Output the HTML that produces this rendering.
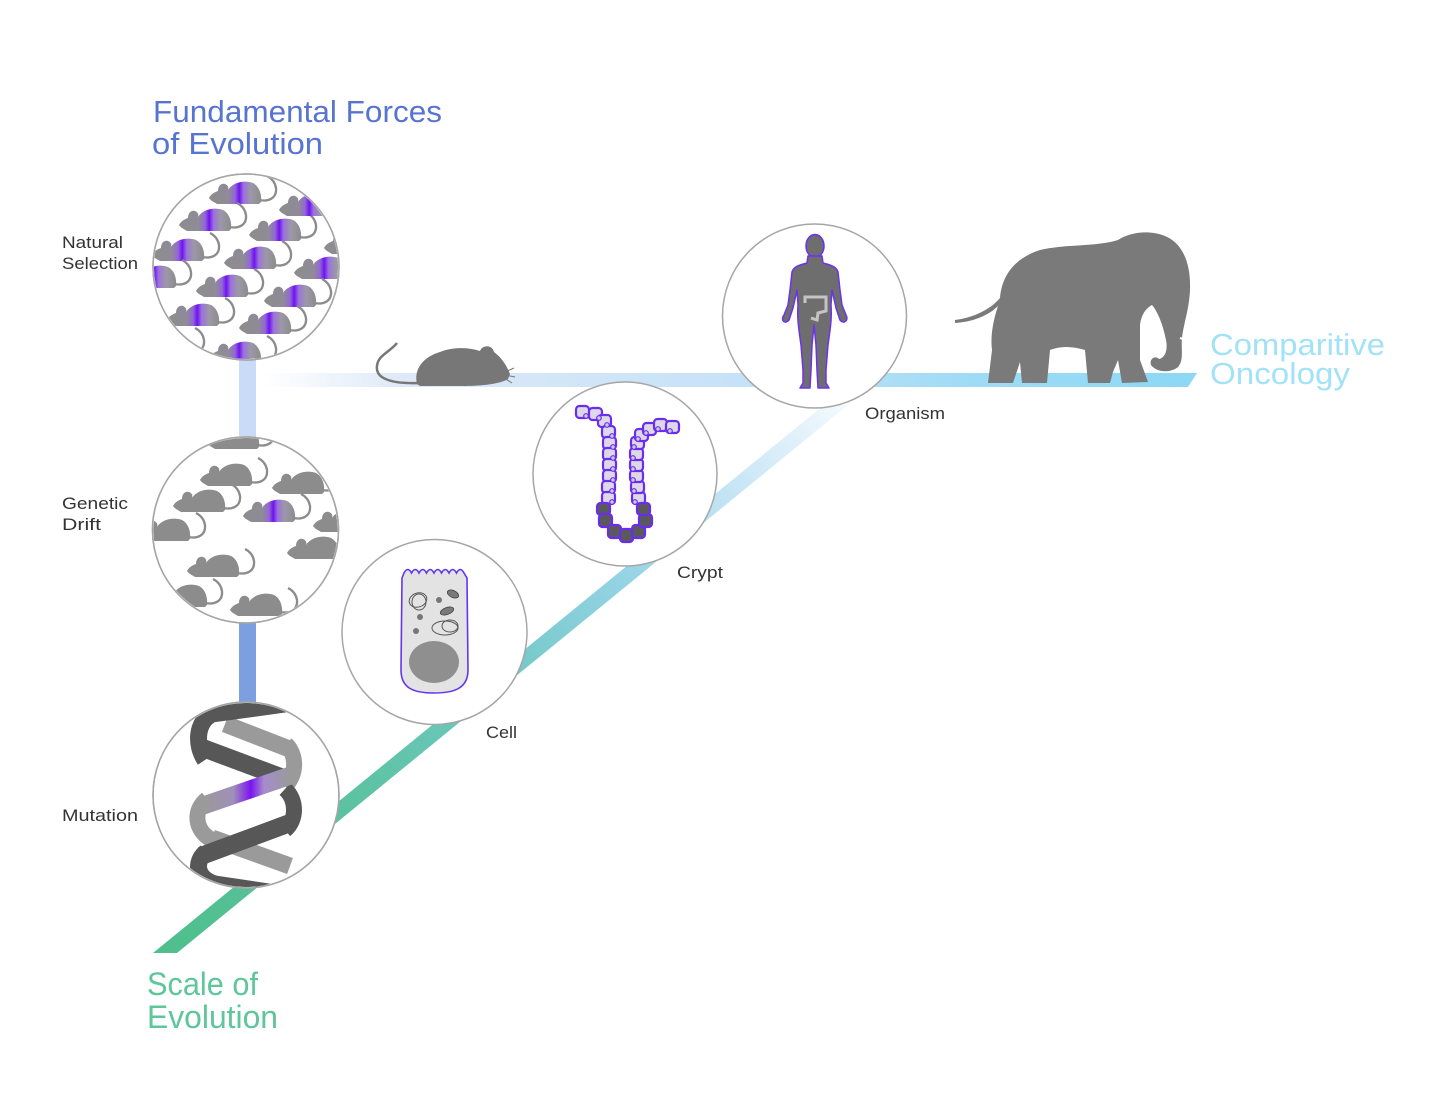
<!DOCTYPE html>
<html><head><meta charset="utf-8"><style>
html,body{margin:0;padding:0;background:#fff;}
svg{display:block;}
text{font-family:"Liberation Sans",sans-serif;}
</style></head><body>
<svg width="1440" height="1112" viewBox="0 0 1440 1112" xmlns="http://www.w3.org/2000/svg">
<defs>
  <linearGradient id="hline" gradientUnits="userSpaceOnUse" x1="265" y1="0" x2="1197" y2="0">
    <stop offset="0" stop-color="#ffffff"/>
    <stop offset="0.15" stop-color="#dde9f8"/>
    <stop offset="0.5" stop-color="#c7e2f8"/>
    <stop offset="0.75" stop-color="#9fdcf6"/>
    <stop offset="1" stop-color="#8bd8f5"/>
  </linearGradient>
  <linearGradient id="dline" gradientUnits="userSpaceOnUse" x1="165" y1="953" x2="835" y2="400">
    <stop offset="0" stop-color="#4fbf8c"/>
    <stop offset="0.3" stop-color="#5dc3a4"/>
    <stop offset="0.5" stop-color="#72c8c5"/>
    <stop offset="0.68" stop-color="#94d3e4"/>
    <stop offset="0.85" stop-color="#c8e6f6"/>
    <stop offset="1" stop-color="#f2f9fd"/>
  </linearGradient>
  <linearGradient id="purp" x1="0" y1="0" x2="1" y2="0">
    <stop offset="0" stop-color="#8c8c8c"/>
    <stop offset="0.38" stop-color="#908b98"/>
    <stop offset="0.5" stop-color="#9266d8"/>
    <stop offset="0.58" stop-color="#7012f2"/>
    <stop offset="0.66" stop-color="#9a70de"/>
    <stop offset="0.8" stop-color="#9d98a8"/>
    <stop offset="1" stop-color="#8c8c8c"/>
  </linearGradient>
  <linearGradient id="dnap" gradientUnits="userSpaceOnUse" x1="203" y1="0" x2="290" y2="0">
    <stop offset="0" stop-color="#9a9a9a"/>
    <stop offset="0.35" stop-color="#a08fb8"/>
    <stop offset="0.55" stop-color="#7a14f0"/>
    <stop offset="0.7" stop-color="#a58ccc"/>
    <stop offset="1" stop-color="#9a9a9a"/>
  </linearGradient>
  <clipPath id="c1"><circle cx="246" cy="267" r="92"/></clipPath>
  <clipPath id="c2"><circle cx="245.5" cy="530" r="92"/></clipPath>
  <clipPath id="c3"><circle cx="246" cy="795" r="92"/></clipPath>
  <g id="mg">
    <path d="M0,18 C2,14 6,12 9,11 C9,6 12,3 16,4 C19,5 20,8 19,10 C24,2 36,0 44,3 C50,6 53,14 52,22 L50,24 L8,24 C5,22 2,21 0,18 Z" fill="#8c8c8c"/>
    <path d="M50,20 C60,22 68,18 67,8 C66,2 62,-2 58,-4" fill="none" stroke="#8c8c8c" stroke-width="2.3"/>
  </g>
  <g id="mp">
    <path d="M0,18 C2,14 6,12 9,11 C9,6 12,3 16,4 C19,5 20,8 19,10 C24,2 36,0 44,3 C50,6 53,14 52,22 L50,24 L8,24 C5,22 2,21 0,18 Z" fill="url(#purp)"/>
    <path d="M50,20 C60,22 68,18 67,8 C66,2 62,-2 58,-4" fill="none" stroke="#8c8c8c" stroke-width="2.3"/>
  </g>
</defs>

<!-- connectors -->
<rect x="239" y="352" width="17" height="90" fill="#c9dcf7"/>
<rect x="239" y="615" width="17" height="92" fill="#7d9fe2"/>
<polygon points="265,373 1197,373 1188,387 265,387" fill="url(#hline)"/>
<polygon points="153,953 177,953 848,405 824,405" fill="url(#dline)"/>

<!-- standalone mouse -->
<path d="M420,383 C395,384 375,380 377,366 C378,355 390,352 397,343" fill="none" stroke="#777" stroke-width="2.5"/>
<path d="M417,384 C414,372 420,358 440,352 C452,347 468,347 480,351 C482,345 492,344 494,352 C502,358 507,366 510,374 L508,379 C500,384 482,386 462,386 L420,386 Z" fill="#777"/>
<path d="M505,372 L514,368 M505,375 L515,377 M504,378 L512,383" stroke="#777" stroke-width="1"/>

<!-- elephant -->
<path d="M955,320 C972,318 990,310 1000,298 C1002,275 1015,258 1040,250 C1065,244 1095,247 1118,240 C1128,233 1148,229 1165,236 C1182,243 1191,262 1190,290 C1189,310 1184,322 1182,338 C1181,350 1184,360 1178,367 C1171,373 1157,373 1151,365 C1149,359 1155,355 1159,359 C1165,358 1168,350 1166,340 C1163,325 1158,312 1152,305 C1146,308 1141,315 1140,325 L1140,360 L1148,382 L1122,383 L1118,360 L1113,372 L1110,383 L1088,383 L1085,350 C1072,346 1060,346 1050,350 L1047,383 L1022,383 L1020,362 L1013,383 L988,383 L992,350 C990,335 994,318 998,306 C988,316 972,322 955,323 Z" fill="#7a7a7a"/>
<path d="M1180,338 L1192,342" stroke="#fff" stroke-width="2"/>

<!-- circles -->
<circle cx="246" cy="267" r="93" fill="#fff" stroke="#a6a6a6" stroke-width="1.5"/>
<circle cx="245.5" cy="530" r="93" fill="#fff" stroke="#a6a6a6" stroke-width="1.5"/>
<circle cx="246" cy="795" r="93" fill="#fff" stroke="#a6a6a6" stroke-width="1.5"/>
<circle cx="434.5" cy="632" r="92.5" fill="#fff" stroke="#a6a6a6" stroke-width="1.5"/>
<circle cx="625" cy="474" r="92" fill="#fff" stroke="#a6a6a6" stroke-width="1.5"/>
<circle cx="814.5" cy="316" r="92" fill="#fff" stroke="#a6a6a6" stroke-width="1.5"/>

<!-- natural selection mice -->
<g clip-path="url(#c1)">
  <use href="#mp" x="209" y="180"/>
  <use href="#mp" x="179" y="207"/>
  <use href="#mp" x="249" y="217"/>
  <use href="#mp" x="279" y="192"/>
  <use href="#mp" x="152" y="237"/>
  <use href="#mp" x="224" y="245"/>
  <use href="#mp" x="294" y="255"/>
  <use href="#mp" x="324" y="230"/>
  <use href="#mp" x="124" y="264"/>
  <use href="#mp" x="196" y="273"/>
  <use href="#mp" x="264" y="283"/>
  <use href="#mp" x="167" y="302"/>
  <use href="#mp" x="239" y="310"/>
  <use href="#mp" x="309" y="320"/>
  <use href="#mp" x="137" y="332"/>
  <use href="#mp" x="209" y="340"/>
</g>
<circle cx="246" cy="267" r="93" fill="none" stroke="#a6a6a6" stroke-width="1.5"/>

<!-- genetic drift mice -->
<g clip-path="url(#c2)">
  <use href="#mg" x="207" y="425"/>
  <use href="#mg" x="200" y="462"/>
  <use href="#mg" x="272" y="470"/>
  <use href="#mg" x="173" y="488"/>
  <use href="#mp" x="243" y="498"/>
  <use href="#mg" x="138" y="517"/>
  <use href="#mg" x="313" y="508"/>
  <use href="#mg" x="287" y="535"/>
  <use href="#mg" x="187" y="553"/>
  <use href="#mg" x="155" y="583"/>
  <use href="#mg" x="230" y="592"/>
</g>
<circle cx="245.5" cy="530" r="93" fill="none" stroke="#a6a6a6" stroke-width="1.5"/>

<!-- DNA -->
<g clip-path="url(#c3)" fill="none" stroke-linecap="butt">
  <path d="M225,724 L292,750" stroke="#9a9a9a" stroke-width="17"/>
  <path d="M205,760 C195,745 196,722 212,714 L285,704" stroke="#575757" stroke-width="17"/>
  <path d="M203,748 L286,779" stroke="#575757" stroke-width="18"/>
  <path d="M286,744 C297,755 297,775 285,786" stroke="#9a9a9a" stroke-width="16"/>
  <path d="M212,838 L290,866" stroke="#9a9a9a" stroke-width="17"/>
  <path d="M285,789 C297,800 297,820 285,830" stroke="#575757" stroke-width="16"/>
  <path d="M202,806 L292,775" stroke="url(#dnap)" stroke-width="18"/>
  <path d="M207,799 C193,810 194,830 212,840" stroke="#9a9a9a" stroke-width="16"/>
  <path d="M201,856 L290,823" stroke="#575757" stroke-width="18"/>
  <path d="M206,852 C194,862 196,878 215,884 L275,893" stroke="#575757" stroke-width="17"/>
</g>
<circle cx="246" cy="795" r="93" fill="none" stroke="#a6a6a6" stroke-width="1.5"/>

<!-- cell -->
<path d="M404,573 q3.75,-7 7.5,0 q3.75,-7 7.5,0 q3.75,-7 7.5,0 q3.75,-7 7.5,0 q3.75,-7 7.5,0 q3.75,-7 7.5,0 q3.75,-7 7.5,0 q3.75,-7 7.5,0 L467,578 L468,670 C468,688 455,693 434,693 C413,693 401,688 401,670 L402,578 Z" fill="#e3e3e3" stroke="#6236ee" stroke-width="1.6"/>
<ellipse cx="434" cy="662" rx="25" ry="21" fill="#8f8f8f"/>
<ellipse cx="418" cy="600" rx="9" ry="7" fill="none" stroke="#555" stroke-width="1" transform="rotate(-20 418 600)"/>
<ellipse cx="419" cy="602" rx="7" ry="8" fill="none" stroke="#555" stroke-width="1"/>
<ellipse cx="453" cy="594" rx="6" ry="3.5" fill="#7a7a7a" stroke="#444" stroke-width="0.8" transform="rotate(25 453 594)"/>
<ellipse cx="447" cy="611" rx="7" ry="3.5" fill="#7a7a7a" stroke="#444" stroke-width="0.8" transform="rotate(-20 447 611)"/>
<circle cx="439" cy="600" r="3" fill="#777"/>
<circle cx="420" cy="617" r="3" fill="#777"/>
<circle cx="416" cy="631" r="3" fill="#777"/>
<ellipse cx="445" cy="628" rx="13" ry="7" fill="none" stroke="#555" stroke-width="1"/>
<ellipse cx="450" cy="626" rx="8" ry="6" fill="none" stroke="#555" stroke-width="1"/>

<!-- crypt -->
<g stroke="#6a2cf0" stroke-width="2.2">
  <g fill="#dcd8e6">
    <rect x="576" y="406" width="13" height="12" rx="3.5"/>
    <rect x="589" y="408" width="13" height="12" rx="3.5"/>
    <rect x="598" y="415" width="13" height="12" rx="3.5"/>
    <rect x="602" y="426" width="13" height="12" rx="3.5"/>
    <rect x="603" y="437" width="13" height="12" rx="3.5"/>
    <rect x="603" y="448" width="13" height="12" rx="3.5"/>
    <rect x="603" y="459" width="13" height="12" rx="3.5"/>
    <rect x="603" y="470" width="13" height="12" rx="3.5"/>
    <rect x="602" y="481" width="13" height="12" rx="3.5"/>
    <rect x="602" y="492" width="13" height="12" rx="3.5"/>
    <rect x="632" y="492" width="13" height="12" rx="3.5"/>
    <rect x="631" y="481" width="13" height="12" rx="3.5"/>
    <rect x="630" y="470" width="13" height="12" rx="3.5"/>
    <rect x="630" y="459" width="13" height="12" rx="3.5"/>
    <rect x="630" y="448" width="13" height="12" rx="3.5"/>
    <rect x="631" y="437" width="13" height="12" rx="3.5"/>
    <rect x="635" y="429" width="13" height="12" rx="3.5"/>
    <rect x="643" y="423" width="13" height="12" rx="3.5"/>
    <rect x="654" y="419" width="13" height="12" rx="3.5"/>
    <rect x="666" y="421" width="13" height="12" rx="3.5"/>
  </g>
  <g fill="#5a5a5a">
    <rect x="597" y="503" width="13" height="12" rx="3.5"/>
    <rect x="599" y="514" width="13" height="13" rx="3.5"/>
    <rect x="608" y="525" width="13" height="13" rx="3.5"/>
    <rect x="620" y="529" width="13" height="13" rx="3.5"/>
    <rect x="632" y="525" width="13" height="13" rx="3.5"/>
    <rect x="639" y="514" width="13" height="13" rx="3.5"/>
    <rect x="637" y="503" width="13" height="12" rx="3.5"/>
  </g>
  <g fill="#cfc9dc" stroke-width="1.2">
    <circle cx="586" cy="416" r="2.3"/><circle cx="599" cy="418" r="2.3"/><circle cx="607" cy="425" r="2.3"/>
    <circle cx="612" cy="436" r="2.3"/><circle cx="613" cy="447" r="2.3"/><circle cx="613" cy="458" r="2.3"/>
    <circle cx="613" cy="469" r="2.3"/><circle cx="613" cy="480" r="2.3"/><circle cx="612" cy="491" r="2.3"/>
    <circle cx="612" cy="502" r="2.3"/><circle cx="635" cy="502" r="2.3"/><circle cx="634" cy="491" r="2.3"/>
    <circle cx="633" cy="480" r="2.3"/><circle cx="633" cy="469" r="2.3"/><circle cx="633" cy="458" r="2.3"/>
    <circle cx="634" cy="447" r="2.3"/><circle cx="638" cy="439" r="2.3"/><circle cx="646" cy="433" r="2.3"/>
    <circle cx="658" cy="429" r="2.3"/><circle cx="670" cy="431" r="2.3"/>
  </g>
</g>

<!-- human -->
<ellipse cx="815" cy="246" rx="9" ry="11.5" fill="#6e6e6e" stroke="#6b33ee" stroke-width="1.5"/>
<path d="M808,256 L822,256 L823,263 C830,265 836,266 838,272 L840,290 L842,305 L846,315 C849,320 844,325 840,320 L836,308 L832,290 L831,305 C832,320 830,330 828,345 L826,370 L826,383 L829,388 L818,388 L817,370 L816,345 L814,325 L812,345 L811,370 L810,388 L800,388 L803,383 L803,370 L801,345 C799,330 797,320 798,305 L797,290 L793,308 L789,320 C785,325 780,320 784,315 L788,305 L790,290 L792,272 C794,266 800,265 807,263 Z" fill="#6e6e6e" stroke="#6b33ee" stroke-width="1.5" stroke-linejoin="round"/>
<path d="M805,303 L805,297 L826,297 L826,311 L818,313 L817,320 L811,318" fill="none" stroke="#c4c4c4" stroke-width="3"/>

<!-- titles -->
<text x="153" y="122" font-size="31" fill="#5874d1" textLength="289" lengthAdjust="spacingAndGlyphs">Fundamental Forces</text>
<text x="152" y="154" font-size="31" fill="#5874d1" textLength="171" lengthAdjust="spacingAndGlyphs">of Evolution</text>
<text x="147" y="995" font-size="32" fill="#5ec69a" textLength="111" lengthAdjust="spacingAndGlyphs">Scale of</text>
<text x="147" y="1028" font-size="32" fill="#5ec69a" textLength="131" lengthAdjust="spacingAndGlyphs">Evolution</text>
<text x="1210" y="355" font-size="31" fill="#a2e2f7" textLength="175" lengthAdjust="spacingAndGlyphs">Comparitive</text>
<text x="1210" y="384" font-size="31" fill="#a2e2f7" textLength="140" lengthAdjust="spacingAndGlyphs">Oncology</text>

<!-- labels -->
<g font-size="17" fill="#333">
  <text x="62" y="248" textLength="61" lengthAdjust="spacingAndGlyphs">Natural</text>
  <text x="62" y="269" textLength="76" lengthAdjust="spacingAndGlyphs">Selection</text>
  <text x="62" y="509" textLength="66" lengthAdjust="spacingAndGlyphs">Genetic</text>
  <text x="62" y="530" textLength="39" lengthAdjust="spacingAndGlyphs">Drift</text>
  <text x="62" y="821" textLength="76" lengthAdjust="spacingAndGlyphs">Mutation</text>
  <text x="486" y="738" textLength="31" lengthAdjust="spacingAndGlyphs">Cell</text>
  <text x="677" y="578" textLength="46" lengthAdjust="spacingAndGlyphs">Crypt</text>
  <text x="865" y="419" textLength="80" lengthAdjust="spacingAndGlyphs">Organism</text>
</g>
</svg>
</body></html>
